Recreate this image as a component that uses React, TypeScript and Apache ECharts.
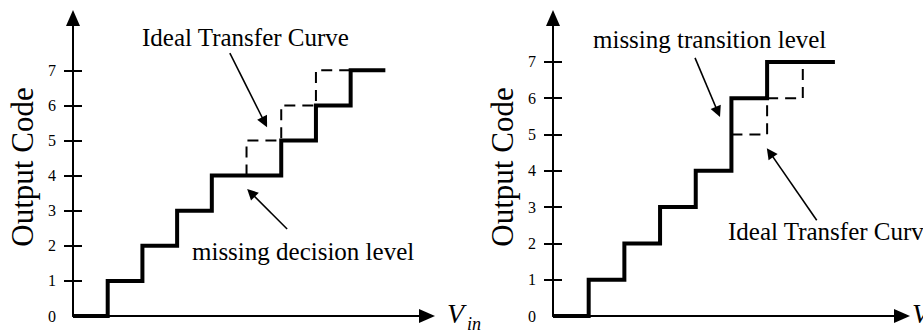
import React, { useEffect, useRef } from "react";
import * as echarts from "echarts";

const FONT = "'Liberation Serif', 'Times New Roman', serif";

// tick labels (output codes)
const codeTicks = [0, 1, 2, 3, 4, 5, 6, 7];
const codeTickMarks = [1, 2, 3, 4, 5, 6, 7];

// Left panel: missing decision level (step-end points: [x where code starts, code])
const leftActual: number[][] = [
  [0, 0], [1, 1], [2, 2], [3, 3], [4, 4], [6, 5], [7, 6], [8, 7], [9, 7],
];
// ideal transfer curve (step-start)
const leftIdeal: number[][] = [
  [5, 4], [6, 5], [7, 6], [8, 7],
];

// Right panel: missing transition level (step-end)
const rightActual: number[][] = [
  [0, 0], [1, 1], [2, 2], [3, 3], [4, 4], [5, 6], [6, 7], [7.9, 7],
];
// ideal transfer curve (step-end)
const rightIdeal: number[][] = [
  [5, 5], [6, 6], [7, 7],
];

// annotation arrows [from, to] in data coordinates
const leftArrows: number[][][] = [
  [[4.52, 7.49], [5.52, 5.52]],
  [[6.17, 2.48], [5.13, 3.51]],
];
const rightArrows: number[][][] = [
  [[3.98, 7.11], [4.62, 5.62]],
  [[7.39, 2.64], [6.08, 4.5]],
];

const axisRange = {
  leftX: 10.2,
  leftY: 8.49,
  rightX: 9.78,
  rightY: 8.21,
};

function makeArrows(arrows: number[][][]) {
  return arrows.map((a) => [
    { coord: a[0], symbol: "none" },
    { coord: a[1], symbol: "triangle" },
  ]);
}

export default function App() {
  const ref = useRef<HTMLDivElement>(null);
  useEffect(() => {
    if (!ref.current) return;
    const chart = echarts.init(ref.current, null, { renderer: "svg" });

    const xAxisBase = (gridIndex: number, max: number) => ({
      type: "value",
      gridIndex,
      min: 0,
      max,
      axisLine: {
        show: true,
        symbol: ["none", "triangle"],
        symbolSize: [14, 16],
        lineStyle: { color: "#000", width: 2 },
      },
      axisTick: { show: false },
      axisLabel: { show: false },
      splitLine: { show: false },
    });

    const yAxisOuter = (gridIndex: number, max: number) => ({
      type: "value",
      gridIndex,
      min: 0,
      max,
      interval: 1,
      name: "Output Code",
      nameLocation: "middle",
      nameGap: 35,
      nameTextStyle: { fontFamily: FONT, fontSize: 31, color: "#000" },
      axisLine: {
        show: true,
        symbol: ["none", "triangle"],
        symbolSize: [14, 16],
        lineStyle: { color: "#000", width: 2 },
      },
      axisTick: {
        show: true,
        length: 9,
        customValues: codeTickMarks,
        lineStyle: { color: "#000", width: 2 },
      },
      axisLabel: {
        show: true,
        margin: 17,
        customValues: codeTicks,
        fontFamily: FONT,
        fontSize: 16,
        color: "#000",
      },
      splitLine: { show: false },
    });

    const yAxisInner = (gridIndex: number, max: number) => ({
      type: "value",
      gridIndex,
      min: 0,
      max,
      interval: 1,
      position: "left",
      axisLine: { show: false },
      axisTick: {
        show: true,
        inside: true,
        length: 9,
        customValues: codeTickMarks,
        lineStyle: { color: "#000", width: 2 },
      },
      axisLabel: { show: false },
      splitLine: { show: false },
    });

    const markLineBase = (arrows: number[][][]) => ({
      silent: true,
      symbolSize: 11,
      label: { show: false },
      lineStyle: { color: "#000", width: 1.6, type: "solid" },
      emphasis: { disabled: true },
      data: makeArrows(arrows),
    });

    const textEl = (
      text: string,
      x: number,
      y: number,
      fontSize: number,
      italic = false
    ) => ({
      type: "text",
      x,
      y,
      silent: true,
      style: {
        text,
        fill: "#000",
        fontFamily: FONT,
        fontSize,
        fontStyle: italic ? "italic" : "normal",
        align: "left",
        verticalAlign: "middle",
        textAlign: "left",
        textVerticalAlign: "middle",
      },
    });

    chart.setOption({
      animation: false,
      backgroundColor: "#fff",
      grid: [
        { left: 73, top: 18, width: 354, height: 298 },
        { left: 553, top: 18, width: 349, height: 298 },
      ],
      xAxis: [
        xAxisBase(0, axisRange.leftX),
        xAxisBase(1, axisRange.rightX),
      ],
      yAxis: [
        yAxisOuter(0, axisRange.leftY),
        yAxisInner(0, axisRange.leftY),
        yAxisOuter(1, axisRange.rightY),
        yAxisInner(1, axisRange.rightY),
      ],
      series: [
        {
          type: "line",
          xAxisIndex: 0,
          yAxisIndex: 0,
          step: "start",
          data: leftIdeal,
          showSymbol: false,
          lineStyle: { color: "#000", width: 2, type: [11, 7], join: "miter" },
          z: 2,
        },
        {
          type: "line",
          xAxisIndex: 0,
          yAxisIndex: 0,
          step: "end",
          data: leftActual,
          showSymbol: false,
          lineStyle: { color: "#000", width: 4, join: "miter" },
          markLine: markLineBase(leftArrows),
          z: 3,
        },
        {
          type: "line",
          xAxisIndex: 1,
          yAxisIndex: 2,
          step: "end",
          data: rightIdeal,
          showSymbol: false,
          lineStyle: { color: "#000", width: 2, type: [11, 7], join: "miter" },
          z: 2,
        },
        {
          type: "line",
          xAxisIndex: 1,
          yAxisIndex: 2,
          step: "end",
          data: rightActual,
          showSymbol: false,
          lineStyle: { color: "#000", width: 4, join: "miter" },
          markLine: markLineBase(rightArrows),
          z: 3,
        },
      ],
      graphic: [
        textEl("Ideal Transfer Curve", 142, 37, 25),
        textEl("missing decision level", 192, 251, 25),
        textEl("missing transition level", 593, 39, 25),
        textEl("Ideal Transfer Curve", 728, 231, 25),
        textEl("V", 447, 313, 28, true),
        textEl("in", 467, 324, 18, true),
        textEl("V", 912, 313, 28, true),
      ],
    });
    return () => chart.dispose();
  }, []);

  return (
    <div
      ref={ref}
      style={{ position: "absolute", left: 0, top: 0, width: 923, height: 331 }}
    />
  );
}
